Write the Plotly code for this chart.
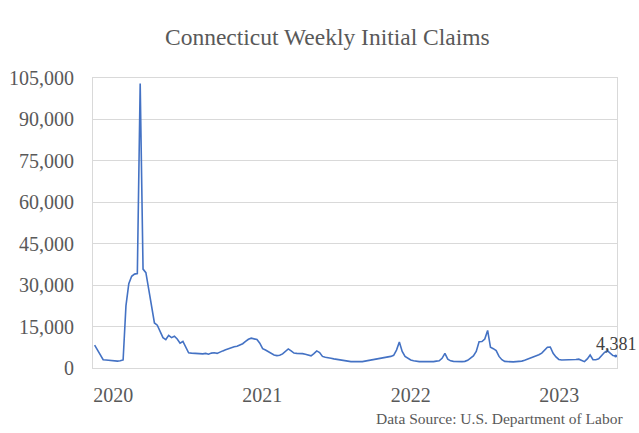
import pandas as pd
import plotly.graph_objects as go

start_date = "2019-11-16"
claims = [
    8300, 6600, 4600, 3000, 2900, 2800, 2700, 2400, 2500, 2600,
    2900, 22500, 30500, 33200, 34000, 34200, 103000, 35800, 34500, 28500,
    22500, 16300, 15500, 13000, 11000, 10300, 11800, 11000, 11500, 10500,
    9000, 9600, 7500, 5500, 5400, 5300, 5400, 5200, 5100, 5300,
    5000, 5400, 5500, 5300, 5900, 6200, 6600, 7000, 7400, 7700,
    7900, 8300, 8800, 9600, 10400, 10800, 10500, 10300, 9000, 7000,
    6500, 6000, 5200, 4700, 4500, 4600, 5100, 6000, 6900, 6200,
    5400, 5300, 5300, 5200, 5000, 4600, 4400, 5200, 6200, 5600,
    4200, 3900, 3600, 3500, 3300, 3100, 2900, 2800, 2600, 2500,
    2300, 2300, 2200, 2300, 2300, 2500, 2500, 2700, 2900, 3100,
    3400, 3600, 3800, 4000, 4200, 4600, 6500, 9400, 6000, 4200,
    3400, 2900, 2600, 2400, 2300, 2300, 2300, 2200, 2300, 2300,
    2500, 2600, 3500, 5300, 3200, 2600, 2400, 2300, 2300, 2300,
    2400, 2800, 3600, 4400, 6000, 9500, 9600, 10500, 13600, 7500,
    7000, 6300, 4200, 3000, 2400, 2300, 2300, 2200, 2300, 2300,
    2500, 2800, 3200, 3500, 3800, 4200, 4800, 5400, 6400, 7500,
    7600, 5300, 4000, 3100, 2900, 2900, 3000, 2900, 3000, 3100,
    3200, 2800, 2300, 3300, 4700, 3000, 3000, 3300, 4600, 5600,
    6300, 5500, 4500, 4381,
]
y_ticks = [0, 15000, 30000, 45000, 60000, 75000, 90000, 105000]
x_tick_dates = ["2020-01-01", "2021-01-01", "2022-01-01", "2023-01-01"]
x_tick_labels = ["2020", "2021", "2022", "2023"]
title_text = "Connecticut Weekly Initial Claims"
source_text = "Data Source: U.S. Department of Labor"

dates = pd.date_range(start=start_date, periods=len(claims), freq="7D")

FONT = "Liberation Serif, Times New Roman, serif"
GRID = "#d9d9d9"
TXT = "#595959"

W, H = 639, 433
ML, MR, MT, MB = 93, 22, 78, 65
PW, PH = W - ML - MR, H - MT - MB


def px_to_paper(px, py):
    return (px - ML) / PW, (H - MB - py) / PH


fig = go.Figure()
fig.add_trace(go.Scatter(
    x=dates, y=claims, mode="lines",
    line=dict(color="#4472C4", width=1.6),
    hoverinfo="skip", showlegend=False,
))
fig.add_trace(go.Scatter(
    x=[dates[-1]], y=[claims[-1]], mode="markers",
    marker=dict(color="#4472C4", size=3),
    hoverinfo="skip", showlegend=False,
))

fig.add_annotation(
    x=dates[-1], y=claims[-1], xref="x", yref="y",
    text=f"{claims[-1]:,}", showarrow=False,
    xanchor="center", yanchor="bottom", yshift=0, xshift=1,
    font=dict(family=FONT, size=18, color="#404040"),
)
sx, sy = px_to_paper(625, 418)
fig.add_annotation(
    x=sx, y=sy, xref="paper", yref="paper",
    text=source_text, showarrow=False, xanchor="right", yanchor="middle",
    font=dict(family=FONT, size=15.5, color=TXT),
)
tx, ty = px_to_paper(327, 37)
fig.add_annotation(
    x=tx, y=ty, xref="paper", yref="paper",
    text=title_text, showarrow=False, xanchor="center", yanchor="middle",
    font=dict(family=FONT, size=23.5, color=TXT),
)

end_pad = dates[-1] + pd.Timedelta(days=3)
fig.update_layout(
    width=W, height=H,
    margin=dict(l=ML, r=MR, t=MT, b=MB),
    paper_bgcolor="white", plot_bgcolor="white",
    xaxis=dict(
        type="date", automargin=False,
        range=[dates[0] - pd.Timedelta(days=4), end_pad],
        tickvals=x_tick_dates, ticktext=x_tick_labels,
        showgrid=False, ticks="",
        showline=True, linecolor=GRID, linewidth=1, mirror=True,
        tickfont=dict(family=FONT, size=20, color=TXT),
        ticklabelstandoff=9,
    ),
    yaxis=dict(
        automargin=False,
        range=[0, 105000], tickvals=y_ticks,
        ticktext=[f"{v:,}" for v in y_ticks],
        showgrid=True, gridcolor=GRID, gridwidth=1,
        zeroline=False, ticks="",
        showline=True, linecolor=GRID, linewidth=1, mirror=True,
        tickfont=dict(family=FONT, size=20, color=TXT),
        ticklabelstandoff=14,
    ),
)

fig.write_html("out.html")
